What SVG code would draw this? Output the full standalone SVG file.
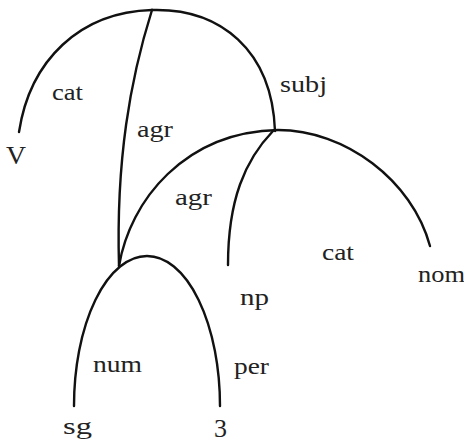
<svg xmlns="http://www.w3.org/2000/svg" width="464" height="444" viewBox="0 0 464 444">
<style>
.e{fill:none;stroke:#111;stroke-width:2.4;stroke-linecap:round}
</style>
<rect width="464" height="444" fill="#fff"/>
<g id="connectors">
<path class="e" d="M19,132 C30,60 80,12 152,10"/>
<path class="e" d="M152,10 C220,8 272,50 275,131"/>
<path class="e" d="M152,10 C130,80 116,160 119,266"/>
<path class="e" d="M119,266 C130,200 185,132 278,130 C345,130 412,180 430,246"/>
<path class="e" d="M273,131 C245,160 228,200 228,265"/>
<path class="e" d="M74,406 A73,150 0 0 1 220,406"/>
</g>
<g font-family="Liberation Serif, Times New Roman, serif" font-size="23" fill="#222">
<g id="labels">
<text x="52" y="100" textLength="31" lengthAdjust="spacingAndGlyphs">cat</text>
<text x="137" y="137" textLength="36" lengthAdjust="spacingAndGlyphs">agr</text>
<text x="175" y="205" textLength="37" lengthAdjust="spacingAndGlyphs">agr</text>
<text x="280" y="92" textLength="47" lengthAdjust="spacingAndGlyphs">subj</text>
<text x="322" y="260" textLength="32" lengthAdjust="spacingAndGlyphs">cat</text>
<text x="93" y="372" textLength="49" lengthAdjust="spacingAndGlyphs">num</text>
<text x="234" y="374" textLength="35" lengthAdjust="spacingAndGlyphs">per</text>
</g>
<g id="node-V"><text x="6" y="164" textLength="20" lengthAdjust="spacingAndGlyphs" font-size="25">V</text></g>
<g id="node-np"><text x="240" y="305" textLength="29" lengthAdjust="spacingAndGlyphs">np</text></g>
<g id="node-nom"><text x="418" y="282" textLength="47" lengthAdjust="spacingAndGlyphs">nom</text></g>
<g id="node-sg"><text x="63" y="434" textLength="29" lengthAdjust="spacingAndGlyphs">sg</text></g>
<g id="node-3"><text x="214" y="437" textLength="13" lengthAdjust="spacingAndGlyphs" font-size="25">3</text></g>
</g>
</svg>
